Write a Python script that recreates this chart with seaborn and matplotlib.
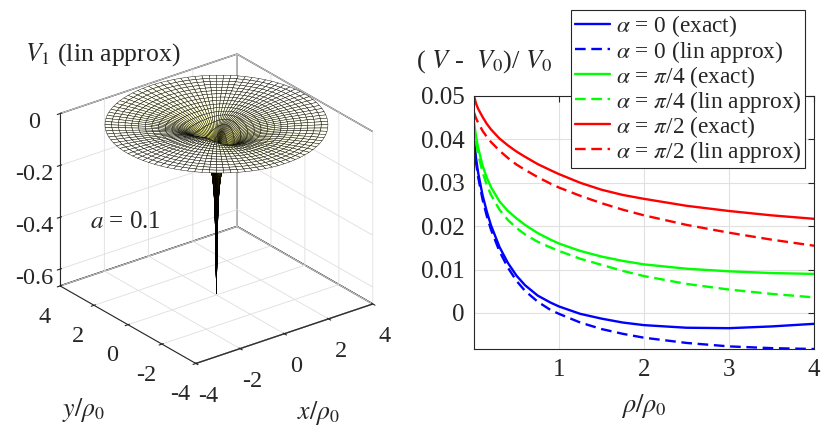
import numpy as np
import pandas as pd
import matplotlib
matplotlib.use('Agg')
import matplotlib.pyplot as plt
import seaborn as sns

# ---- right panel: (V - V0)/V0 against rho/rho0 ----
rho = [0.0, 0.025, 0.05, 0.1, 0.15, 0.2, 0.3, 0.4, 0.5, 0.6, 0.75, 0.9, 1.0,
       1.25, 1.5, 1.75, 2.0, 2.5, 3.0, 3.5, 4.0]
a0_exact = [0.0400, 0.0355, 0.0322, 0.0272, 0.0234, 0.0202, 0.0152, 0.0115,
            0.0086, 0.0064, 0.0040, 0.0024, 0.0015, -0.0002, -0.0013, -0.0022,
            -0.0028, -0.0034, -0.0035, -0.0031, -0.0025]
a0_lin = [0.0390, 0.0345, 0.0312, 0.0262, 0.0224, 0.0192, 0.0142, 0.0104,
          0.0074, 0.0051, 0.0026, 0.0007, -0.0002, -0.0022, -0.0037, -0.0048,
          -0.0057, -0.0069, -0.0077, -0.0081, -0.0083]
a45_exact = [0.0440, 0.0405, 0.0380, 0.0340, 0.0312, 0.0290, 0.0257, 0.0235,
             0.0218, 0.0203, 0.0184, 0.0169, 0.0160, 0.0143, 0.0130, 0.0120,
             0.0112, 0.0102, 0.0096, 0.0092, 0.0090]
a45_lin = [0.0430, 0.0392, 0.0365, 0.0325, 0.0295, 0.0272, 0.0238, 0.0214,
           0.0196, 0.0181, 0.0164, 0.0151, 0.0143, 0.0125, 0.0111, 0.0097,
           0.0085, 0.0067, 0.0054, 0.0044, 0.0036]
a90_exact = [0.0500, 0.0482, 0.0470, 0.0452, 0.0436, 0.0423, 0.0402, 0.0386,
             0.0372, 0.0360, 0.0343, 0.0329, 0.0320, 0.0300, 0.0284, 0.0272,
             0.0263, 0.0247, 0.0235, 0.0225, 0.0217]
a90_lin = [0.0462, 0.0448, 0.0438, 0.0420, 0.0406, 0.0394, 0.0374, 0.0357,
           0.0342, 0.0330, 0.0313, 0.0298, 0.0289, 0.0270, 0.0253, 0.0238,
           0.0225, 0.0203, 0.0185, 0.0169, 0.0155]

labels = [r'$\alpha$ = 0 (exact)', r'$\alpha$ = 0 (lin approx)',
          r'$\alpha$ = $\pi$/4 (exact)', r'$\alpha$ = $\pi$/4 (lin approx)',
          r'$\alpha$ = $\pi$/2 (exact)', r'$\alpha$ = $\pi$/2 (lin approx)']
series = [a0_exact, a0_lin, a45_exact, a45_lin, a90_exact, a90_lin]

# ---- left panel: V1 surface on a polar grid ----
ring_r = [0.0, 0.01, 0.03, 0.06, 0.1, 0.16, 0.24, 0.4, 0.64, 0.88, 1.12, 1.36,
          1.6, 1.84, 2.08, 2.32, 2.56, 2.8, 3.04, 3.28, 3.52, 3.76, 4.0]
depth = [-0.66, -0.58, -0.42, -0.29, -0.21, -0.16, -0.13, -0.09, -0.06,
         -0.043, -0.033, -0.027, -0.022, -0.019, -0.016, -0.014, -0.012,
         -0.011, -0.010, -0.009, -0.0082, -0.0075, -0.007]
lobe = [0.0, 0.02, 0.05, 0.06, 0.06, 0.055, 0.05, 0.038, 0.026, 0.018, 0.014,
        0.011, 0.009, 0.008, 0.007, 0.006, 0.0055, 0.005, 0.0045, 0.004,
        0.0036, 0.0032, 0.0029]
lobe_angle = np.deg2rad(20)

sns.set_style('white')
plt.rcParams['font.family'] = ['Liberation Serif', 'DejaVu Serif']
plt.rcParams['mathtext.fontset'] = 'stix'
plt.rcParams['axes.unicode_minus'] = False

fig = plt.figure(figsize=(8.3, 4.34), dpi=100)

# 3D surface
ax3 = fig.add_axes([-0.006, 0.026, 0.52, 0.96], projection='3d')
theta = np.linspace(0, 2 * np.pi, 97)
R, T = np.meshgrid(ring_r, theta)
X = R * np.cos(T)
Y = R * np.sin(T)
Z = np.array(depth)[None, :] + np.outer(np.cos(2 * (theta - lobe_angle)), lobe)
norm = matplotlib.colors.Normalize(vmin=-0.665, vmax=0)
ax3.plot_surface(X, Y, Z, facecolors=plt.cm.hot(norm(Z)), edgecolor='k',
                 linewidth=0.3, shade=False, rstride=1, cstride=1)
ax3.set_proj_type('ortho')
ax3.view_init(elev=26, azim=-127.5)
ax3.set_xlim(-4, 4)
ax3.set_ylim(-4, 4)
ax3.set_zlim(-0.665, 0)
ax3.set_xticks([-4, -2, 0, 2, 4])
ax3.set_yticks([-4, -2, 0, 2, 4])
ax3.set_zticks([-0.6, -0.4, -0.2, 0])
ax3.set_zticklabels(['-0.6', '-0.4', '-0.2', '0'])
ax3.set_box_aspect((1, 1, 0.86), zoom=0.86)
for axis in (ax3.xaxis, ax3.yaxis, ax3.zaxis):
    axis.set_pane_color((1, 1, 1, 1))
    axis.pane.set_edgecolor('0.2')
    axis._axinfo['grid']['color'] = (0.87, 0.87, 0.87, 1)
    axis._axinfo['grid']['linewidth'] = 0.6
    axis.line.set_color('0.15')
ax3.tick_params(labelsize=17.5, pad=6)
ax3.zaxis.set_tick_params(pad=5)

fig.text(25 / 830, 1 - 55 / 434, r'$V_1$ (lin approx)', fontsize=18.5, va='center')
fig.text(90 / 830, 1 - 222 / 434, r'$a$ = 0.1', fontsize=18, va='center')
fig.text(83 / 830, 1 - 410 / 434, r'$y/\rho_0$', fontsize=18.5, ha='center', va='center')
fig.text(318 / 830, 1 - 413 / 434, r'$x/\rho_0$', fontsize=18.5, ha='center', va='center')

# 2D curves
ax2 = fig.add_axes([474 / 830, 1 - 349 / 434, 340 / 830, 253 / 434])
df = pd.DataFrame({
    'rho': rho * len(series),
    'value': sum(series, []),
    'curve': [lab for lab in labels for _ in rho],
})
palette = dict(zip(labels, ['#0000ff', '#0000ff', '#00ff00', '#00ff00', '#ff0000', '#ff0000']))
dashes = dict(zip(labels, ['', (4.5, 2.4), '', (4.5, 2.4), '', (4.5, 2.4)]))
sns.lineplot(data=df, x='rho', y='value', hue='curve', style='curve',
             palette=palette, dashes=dashes, linewidth=1.7, ax=ax2)
ax2.set_xlim(0, 4)
ax2.set_ylim(-0.0083, 0.05)
ax2.set_xticks([1, 2, 3, 4])
ax2.set_yticks([0, 0.01, 0.02, 0.03, 0.04, 0.05])
ax2.set_yticklabels(['0', '0.01', '0.02', '0.03', '0.04', '0.05'])
ax2.grid(True, color='0.88', linewidth=0.8)
ax2.tick_params(direction='in', top=True, right=True, labelsize=18, length=4,
                color='0.15', pad=7)
for sp in ax2.spines.values():
    sp.set_color('0.15')
    sp.set_linewidth(0.8)
ax2.set_xlabel(r'$\rho/\rho_0$', fontsize=19, labelpad=8)
ax2.set_ylabel('')
fig.text(416 / 830, 1 - 62 / 434, r'( $V$ -  $V_0$)/ $V_0$', fontsize=19, va='center')

handles, labs = ax2.get_legend_handles_labels()
ax2.legend(handles, labs, loc='upper right', bbox_to_anchor=(805 / 830, 1 - 10 / 434),
           bbox_transform=fig.transFigure, fontsize=16.8, frameon=True, fancybox=False,
           framealpha=1, edgecolor='0.15', handlelength=1.5, handletextpad=0.25,
           labelspacing=-0.04, borderpad=0.15, borderaxespad=0)
ax2.get_legend().get_frame().set_linewidth(0.8)

fig.savefig('out.png', dpi=100)
